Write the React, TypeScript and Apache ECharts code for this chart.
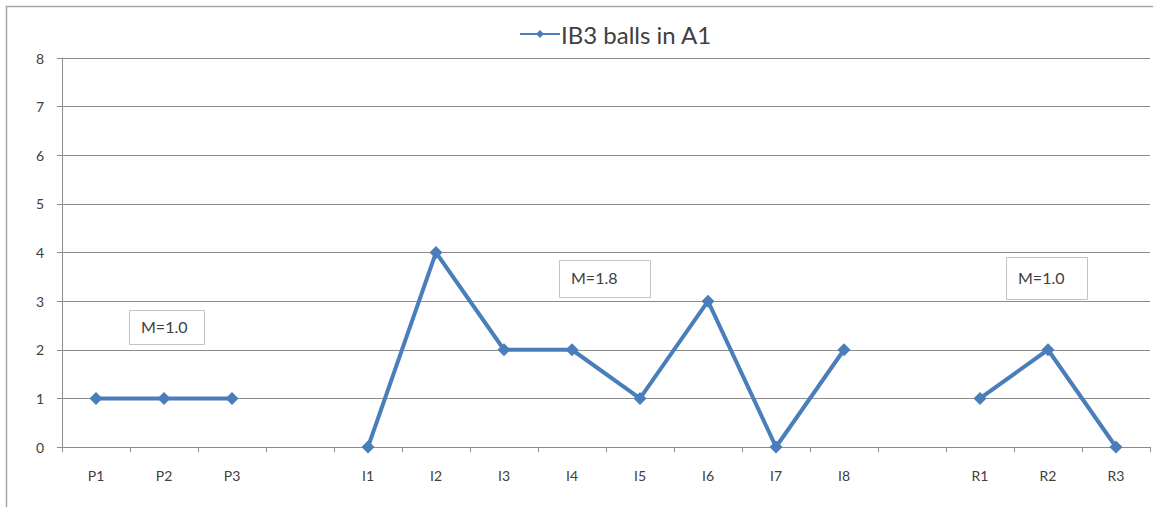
import React, { useEffect, useRef } from "react";
import * as echarts from "echarts";

const categories = ["P1", "P2", "P3", "", "I1", "I2", "I3", "I4", "I5", "I6", "I7", "I8", "", "R1", "R2", "R3"];
const values: (number | null)[] = [1, 1, 1, null, 0, 4, 2, 2, 1, 3, 0, 2, null, 1, 2, 0];
const seriesName = "IB3 balls in A1";
const yTicks = { min: 0, max: 8, interval: 1 };
const notes = [
  { text: "M=1.0", x: 129, y: 310, w: 75, h: 34 },
  { text: "M=1.8", x: 559, y: 260, w: 91, h: 37 },
  { text: "M=1.0", x: 1006, y: 257, w: 81, h: 42 },
];

const FONT = "Lato, 'Open Sans', sans-serif";
const TEXT = "#404040";
const GRID = "#8c8c8c";
const BLUE = "#4a7ebb";

export default function App() {
  const ref = useRef<HTMLDivElement>(null);
  useEffect(() => {
    document.body.style.margin = "0";
    const chart = echarts.init(ref.current!, null, { renderer: "svg" });
    chart.setOption({
      animation: false,
      backgroundColor: "#ffffff",
      legend: {
        data: [seriesName],
        left: 514,
        top: 17,
        itemWidth: 40,
        itemHeight: 10,
        itemStyle: { borderWidth: 0 },
        textStyle: { fontFamily: FONT, fontSize: 24, color: TEXT, padding: [0, 0, 0, -4] },
      },
      grid: { left: 62, right: 3, top: 58, bottom: 60 },
      xAxis: {
        type: "category",
        data: categories,
        boundaryGap: true,
        axisLine: { show: true, lineStyle: { color: GRID, width: 1 } },
        axisTick: { show: true, interval: 0, length: 5, lineStyle: { color: GRID } },
        axisLabel: { interval: 0, margin: 21, fontFamily: FONT, fontSize: 14, color: TEXT },
        splitLine: { show: false },
      },
      yAxis: {
        type: "value",
        min: yTicks.min,
        max: yTicks.max,
        interval: yTicks.interval,
        axisLine: { show: true, lineStyle: { color: GRID, width: 1 } },
        axisTick: { show: true, length: 5, lineStyle: { color: GRID } },
        axisLabel: { margin: 18, fontFamily: FONT, fontSize: 14, color: TEXT },
        splitLine: { show: true, lineStyle: { color: GRID, width: 1 } },
      },
      series: [
        {
          name: seriesName,
          type: "line",
          data: values,
          connectNulls: false,
          symbol: "diamond",
          symbolSize: 13,
          itemStyle: { color: BLUE },
          lineStyle: { color: BLUE, width: 4 },
        },
      ],
      graphic: [
        {
          type: "rect",
          shape: { x: 6.5, y: 6.5, width: 1300, height: 700 },
          style: { fill: "none", stroke: "#a6a6a6", lineWidth: 1.5 },
          silent: true,
          z: -1,
        },
        ...notes.map((n) => ({
          type: "group",
          children: [
            {
              type: "rect",
              shape: { x: n.x + 0.5, y: n.y + 0.5, width: n.w, height: n.h },
              style: { fill: "#ffffff", stroke: "#c4c4c4", lineWidth: 1 },
            },
            {
              type: "text",
              x: n.x + 12,
              y: n.y + n.h / 2 - 1,
              style: {
                text: n.text,
                fontFamily: FONT,
                fontSize: 16,
                fill: TEXT,
                verticalAlign: "middle",
                align: "left",
              },
            },
          ],
        })),
      ],
    });
    return () => chart.dispose();
  }, []);
  return <div ref={ref} style={{ width: 1153, height: 507 }} />;
}
